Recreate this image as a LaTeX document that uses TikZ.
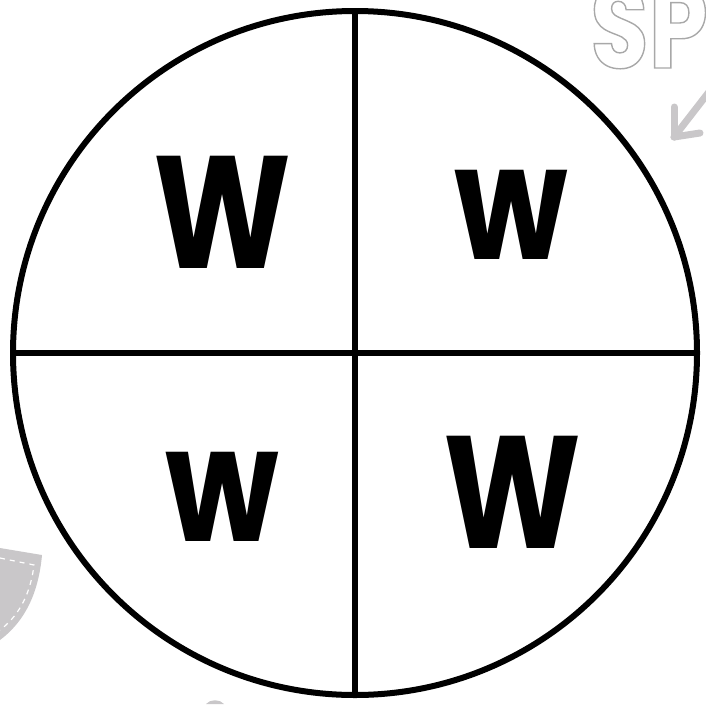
\documentclass[tikz,border=0pt]{standalone}
\usepackage{fontspec}
\usepackage{tikz}
\newfontfamily\letterfont{Poppins}[FakeStretch=0.82]
\definecolor{wheelfg}{HTML}{000000}
\definecolor{decogray}{HTML}{C9C7C9}
\definecolor{outlinegray}{HTML}{A8A8A8}
\newcommand{\outlinetext}[1]{\special{pdf:literal direct 1 Tr 1.4 w 0.66 G}#1\special{pdf:literal direct 0 Tr}}

\begin{document}
\begin{tikzpicture}[x=1pt,y=-1pt,>=stealth]
  \tikzstyle{wheel}=[draw=wheelfg, line width=6pt]
  \tikzstyle{letter}=[font=\letterfont\bfseries\fontsize{160}{160}\selectfont, inner sep=0pt, text=wheelfg]
  \tikzstyle{deco}=[draw=decogray, line width=7pt]
  \useasboundingbox (0,0) rectangle (706,704);

  % background bits
  \node[anchor=base west, inner sep=0pt, text=white, font=\letterfont\bfseries\fontsize{116}{116}\selectfont] (sp) at (590,68)
    {\outlinetext{SP}};
  \coordinate (arrowtail) at (712,88);
  \coordinate (arrowtip) at (674,137);
  \draw[deco, line cap=round] (arrowtail) -- (arrowtip);
  \draw[deco, line cap=round] (arrowtip) -- ++(26,-4);
  \draw[deco, line cap=round] (arrowtip) -- ++(0,-30);
  \fill[decogray] (0,548) -- (42,555) .. controls (38,600) and (20,625) .. (0,640) -- cycle;
  \draw[white, line width=1.2pt, dash pattern=on 5pt off 5pt]
    (0,558) -- (34,565) .. controls (30,598) and (16,618) .. (0,630);
  \fill[decogray] (206,704) .. controls (210,699) and (220,699) .. (224,704) -- cycle;

  % wheel
  \coordinate (c) at (355,353);
  \draw[wheel] (c) circle (342);
  \coordinate (top) at (355,11);
  \coordinate (bottom) at (355,695);
  \coordinate (left) at (13,353);
  \coordinate (right) at (697,353);
  \draw[wheel] (top) -- (bottom);
  \draw[wheel] (left) -- (right);

  % letters
  \node[letter] (tl) at (223,212) {W};
  \node[letter] (tr) at (511,215) {w};
  \node[letter] (bl) at (222,497) {w};
  \node[letter] (br) at (513,492) {W};
\end{tikzpicture}
\end{document}
